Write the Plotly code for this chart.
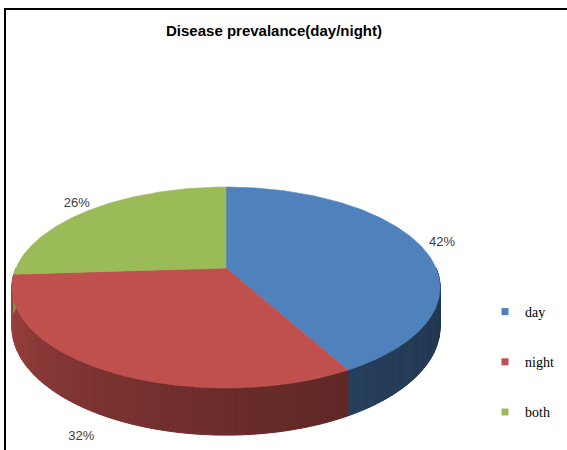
import numpy as np
import plotly.graph_objects as go

# ---- data ----
categories = ["day", "night", "both"]
values = [42, 32, 26]
top_colors = ["#4F81BD", "#C0504D", "#9BBB59"]
title_text = "Disease prevalance(day/night)"

# ---- perspective geometry of the 3D pie (pixel space) ----
W, H = 567, 450
cx, cy = 226, 268        # projected centre of the pie
A, B, k = 210.0, 96.7, 0.194   # horizontal / vertical scale, perspective strength
D = 38.0                 # wall height


def pt(theta_deg, r=1.0, wall=False):
    t = np.radians(theta_deg)
    u = r * np.sin(t)
    v = -r * np.cos(t)
    w = 1.0 - k * v
    x = cx + A * u / w
    y = cy + B * v / w
    if wall:
        y = y + D / w
    return x, y


def hex_to_rgb(h):
    h = h.lstrip("#")
    return tuple(int(h[i:i + 2], 16) for i in (0, 2, 4))


def shade(hexc, f):
    r, g, b = hex_to_rgb(hexc)
    return "rgb(%d,%d,%d)" % (r * f, g * f, b * f)


total = float(sum(values))
angles = [0.0]
for v in values:
    angles.append(angles[-1] + 360.0 * v / total)

fig = go.Figure()

# ---- side walls (front half only, angles 90..270) ----
for i, c in enumerate(categories):
    a0, a1 = max(angles[i], 90.0), min(angles[i + 1], 270.0)
    if a1 <= a0:
        continue
    n = max(2, int((a1 - a0) / 1.5))
    edges = np.linspace(a0, a1, n + 1)
    for s0, s1 in zip(edges[:-1], edges[1:]):
        mid = 0.5 * (s0 + s1)
        tt = (mid - 90.0) / 180.0
        f = 0.42 + 0.43 * tt ** 1.6
        col = shade(top_colors[i], f)
        arc = np.linspace(s0, s1, 4)
        xs_top, ys_top = pt(arc)
        xs_bot, ys_bot = pt(arc[::-1], wall=True)
        xs = list(xs_top) + list(xs_bot) + [xs_top[0]]
        ys = list(ys_top) + list(ys_bot) + [ys_top[0]]
        fig.add_trace(go.Scatter(x=xs, y=ys, mode="lines", fill="toself",
                                 fillcolor=col, line=dict(color=col, width=1),
                                 hoverinfo="skip", showlegend=False))

# ---- top faces ----
for i, c in enumerate(categories):
    arc = np.linspace(angles[i], angles[i + 1], 160)
    xs, ys = pt(arc)
    xs = [cx] + list(xs) + [cx]
    ys = [cy] + list(ys) + [cy]
    fig.add_trace(go.Scatter(x=xs, y=ys, mode="lines", fill="toself",
                             fillcolor=top_colors[i],
                             line=dict(color=top_colors[i], width=0.6),
                             hoverinfo="skip", showlegend=False))

# ---- percentage labels ----
lx, ly, lt = [], [], []
for i, v in enumerate(values):
    mid = 0.5 * (angles[i] + angles[i + 1])
    front = 90.0 < mid < 270.0
    px, py = pt(mid, r=1.15 if front else 1.12, wall=front)
    lx.append(px)
    ly.append(py)
    lt.append("%d%%" % round(100 * v / total))
fig.add_trace(go.Scatter(x=lx, y=ly, text=lt, mode="text",
                         textfont=dict(family="Liberation Sans", size=13, color="#404040"),
                         hoverinfo="skip", showlegend=False))

# ---- legend entries ----
for i, c in enumerate(categories):
    fig.add_trace(go.Scatter(x=[None], y=[None], mode="markers", name=c,
                             legendgroup=c,
                             marker=dict(symbol="square", size=7, color=top_colors[i])))

fig.update_layout(
    width=W, height=H, autosize=False,
    margin=dict(l=0, r=0, t=0, b=0, autoexpand=False),
    paper_bgcolor="white", plot_bgcolor="white",
    xaxis=dict(range=[0, W], visible=False, fixedrange=True),
    yaxis=dict(range=[H, 0], visible=False, fixedrange=True),
    title=dict(text="<b>" + title_text + "</b>", x=274 / W, xanchor="center",
               y=1 - 31 / H, yanchor="middle",
               font=dict(family="Liberation Sans", size=15, color="#000000")),
    legend=dict(x=485 / W, y=1 - 296 / H, xanchor="left", yanchor="top",
                font=dict(family="Liberation Serif", size=14, color="#000000"),
                tracegroupgap=29, itemwidth=30, bgcolor="rgba(0,0,0,0)"),
    shapes=[
        dict(type="line", xref="paper", yref="paper", x0=5 / W, x1=1, y0=1 - 9 / H, y1=1 - 9 / H,
             line=dict(color="black", width=2)),
        dict(type="line", xref="paper", yref="paper", x0=5 / W, x1=5 / W, y0=0, y1=1 - 8 / H,
             line=dict(color="black", width=2)),
    ],
)

post = ("document.documentElement.style.overflow='hidden';"
        "document.body.style.overflow='hidden';"
        "document.body.style.margin='0';")
fig.write_html("out.html", config={"displayModeBar": False}, post_script=post)
